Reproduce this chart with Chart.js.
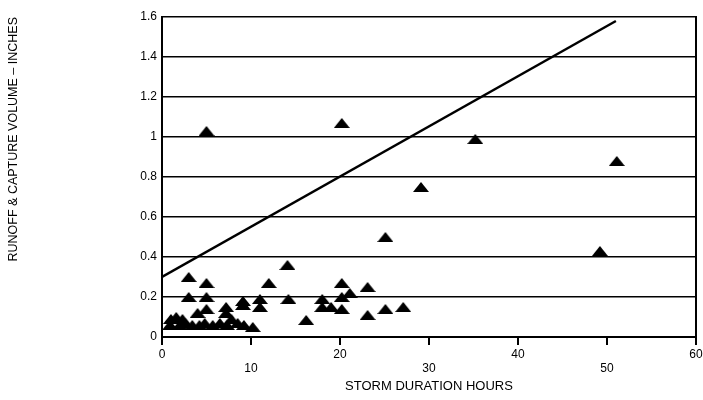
<!DOCTYPE html>
<html>
<head>
<meta charset="utf-8">
<script src="https://cdn.jsdelivr.net/npm/chart.js@4.4.0/dist/chart.umd.min.js"></script>
<style>
  html, body { margin: 0; padding: 0; background: #fff; }
  #wrap { width: 703px; height: 400px; }
</style>
</head>
<body>
<div id="wrap"><canvas id="stormChart" width="703" height="400"></canvas></div>
<script>
// storm duration (hours) vs runoff & capture volume (inches)
const hours = [
  1.0, 1.6, 2.3, 0.9, 2.0, 2.6, 3.4, 4.2, 4.8, 5.7, 6.5, 7.3, 7.8, 8.5, 9.2, 10.2,
  3.0, 5.0, 3.0, 5.0, 4.0, 5.0, 7.2, 7.2, 9.1, 9.1, 11.0, 11.0, 12.0, 14.1, 14.2,
  16.2, 18.0, 18.0, 19.0, 20.2, 20.2, 21.1, 20.2, 23.1, 23.1, 25.1, 27.1,
  5.0, 20.2, 35.2, 29.1, 25.1, 51.1, 49.2
];
const volume = [
  0.09, 0.10, 0.09, 0.06, 0.06, 0.07, 0.06, 0.06, 0.07, 0.06, 0.07, 0.06, 0.09, 0.07, 0.06, 0.05,
  0.30, 0.27, 0.20, 0.20, 0.12, 0.14, 0.15, 0.12, 0.18, 0.16, 0.19, 0.15, 0.27, 0.36, 0.19,
  0.085, 0.19, 0.15, 0.15, 0.27, 0.20, 0.22, 0.14, 0.25, 0.11, 0.14, 0.15,
  1.03, 1.07, 0.99, 0.75, 0.50, 0.88, 0.43
];
const fitX = [0, 51];
const fitY = [0.3, 1.58];
const xTicks = [0, 10, 20, 30, 40, 50, 60];
const yTicks = [0, 0.2, 0.4, 0.6, 0.8, 1, 1.2, 1.4, 1.6];

// flat triangle marker
const tri = document.createElement('canvas');
tri.width = 16;
tri.height = 10;
const tctx = tri.getContext('2d');
tctx.fillStyle = '#000';
tctx.beginPath();
tctx.moveTo(0, 10);
tctx.lineTo(8, 0);
tctx.lineTo(16, 10);
tctx.closePath();
tctx.fill();

const font = { family: '"Liberation Sans", Arial, sans-serif', size: 12 };

const ctx = document.getElementById('stormChart').getContext('2d');
const chart = new Chart(ctx, {
  type: 'scatter',
  data: {
    datasets: [{
      label: 'Storms',
      data: hours.map((h, i) => ({ x: h, y: volume[i] })),
      pointStyle: tri,
      pointRadius: 6
    }, {
      type: 'line',
      label: 'Capture',
      data: fitX.map((x, i) => ({ x: x, y: fitY[i] })),
      borderColor: '#000',
      borderWidth: 2.5,
      pointRadius: 0,
      showLine: true
    }]
  },
  options: {
    responsive: false,
    animation: false,
    layout: { padding: { top: 17, right: 0, bottom: 0, left: 0 } },
    plugins: {
      legend: { display: false },
      tooltip: { enabled: false }
    },
    scales: {
      x: {
        type: 'linear',
        min: 0,
        max: 60,
        afterBuildTicks: s => { s.ticks = xTicks.map(v => ({ value: v })); },
        afterFit: s => {
          s.height = 63;
          s.paddingLeft = 0;
          s.paddingRight = 0;
        },
        border: { color: '#000', width: 2 },
        grid: { drawOnChartArea: false, drawTicks: true, tickLength: 8, color: '#000', lineWidth: 2 },
        ticks: {
          color: '#000',
          font: font,
          padding: 2,
          maxRotation: 0,
          autoSkip: false,
          callback: v => (v % 20 === 0 ? String(v) : ['', String(v)])
        },
        title: {
          display: true,
          text: 'STORM DURATION HOURS',
          color: '#000',
          font: { family: font.family, size: 13 },
          padding: { top: 0, bottom: 6 }
        }
      },
      y: {
        min: 0,
        max: 1.6,
        afterBuildTicks: s => { s.ticks = yTicks.map(v => ({ value: v })); },
        afterFit: s => { s.width = 162; },
        border: { color: '#000', width: 2 },
        grid: { color: '#000', lineWidth: 1.5, drawTicks: false },
        ticks: {
          color: '#000',
          font: font,
          padding: 5,
          callback: v => String(+v.toFixed(1))
        },
        title: {
          display: true,
          text: 'RUNOFF & CAPTURE VOLUME \u2013 INCHES',
          color: '#000',
          align: 'end',
          font: { family: font.family, size: 12.5 },
          padding: { top: 6, bottom: 0 }
        }
      },
      y2: {
        position: 'right',
        min: 0,
        max: 1.6,
        afterFit: s => { s.width = 0; },
        border: { color: '#000', width: 2 },
        grid: { drawOnChartArea: false, drawTicks: false },
        ticks: { display: false }
      }
    }
  }
});
</script>
</body>
</html>
